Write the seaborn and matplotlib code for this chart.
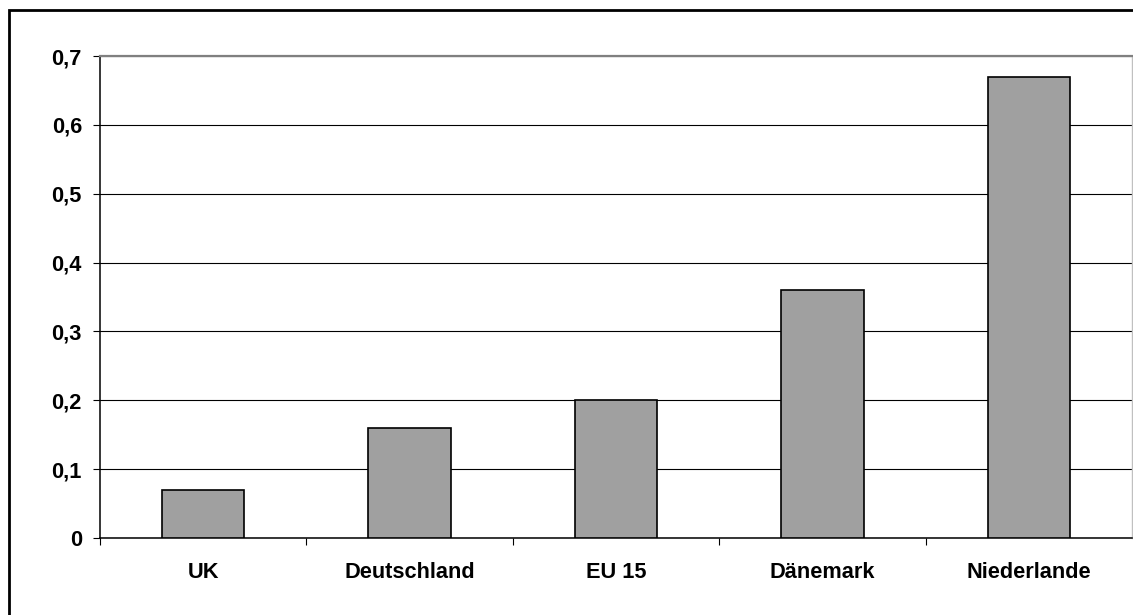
import matplotlib
matplotlib.use("Agg")
import matplotlib.pyplot as plt
import seaborn as sns
import pandas as pd
from matplotlib.patches import Rectangle

# data
laender = ["UK", "Deutschland", "EU 15", "Dänemark", "Niederlande"]
werte = [0.07, 0.16, 0.20, 0.36, 0.67]
y_ticks = [0, 0.1, 0.2, 0.3, 0.4, 0.5, 0.6, 0.7]
y_labels = ["0", "0,1", "0,2", "0,3", "0,4", "0,5", "0,6", "0,7"]

df = pd.DataFrame({"Land": laender, "Wert": werte})

sns.set_style("white")
plt.rcParams['font.family'] = ['Liberation Sans', 'DejaVu Sans']

fig = plt.figure(figsize=(11.33, 6.15), dpi=100)
ax = fig.add_axes([100 / 1133, 1 - 538 / 615, 1032 / 1133, 482 / 615])

sns.barplot(data=df, x="Land", y="Wert", color="#A0A0A0", saturation=1,
            width=0.40, edgecolor="black", linewidth=1.2, ax=ax, zorder=3)

ax.set_xlim(-0.5, len(laender) - 0.5)
ax.set_ylim(0, 0.7)
ax.set_yticks(y_ticks)
ax.set_yticklabels(y_labels)
ax.set_xlabel("")
ax.set_ylabel("")

ax.yaxis.grid(True, color="black", linewidth=0.8)
ax.set_axisbelow(True)

for lbl in ax.get_xticklabels() + ax.get_yticklabels():
    lbl.set_fontweight("bold")
    lbl.set_fontsize(15.7)
    lbl.set_color("black")

ax.tick_params(axis="y", which="major", direction="out", length=5, width=0.8,
               color="black", pad=8, left=True)
ax.tick_params(axis="x", which="major", length=0, pad=17)
ax.set_xticks([i - 0.5 for i in range(len(laender))], minor=True)
ax.tick_params(axis="x", which="minor", direction="out", length=5, width=0.8,
               color="black", bottom=True)

ax.spines["left"].set_color("black")
ax.spines["left"].set_linewidth(1.1)
ax.spines["bottom"].set_color("black")
ax.spines["bottom"].set_linewidth(1.1)
ax.spines["top"].set_color("#808080")
ax.spines["top"].set_linewidth(1.6)
ax.spines["right"].set_color("#C0C0C0")
ax.spines["right"].set_linewidth(1.0)

# outer frame around the chart
fig.patches.append(Rectangle((8.5 / 1133, -0.05), 1.2, 1 - 9.5 / 615 + 0.05,
                             transform=fig.transFigure, fill=False,
                             edgecolor="black", linewidth=2))

fig.savefig("out.png", dpi=100)
